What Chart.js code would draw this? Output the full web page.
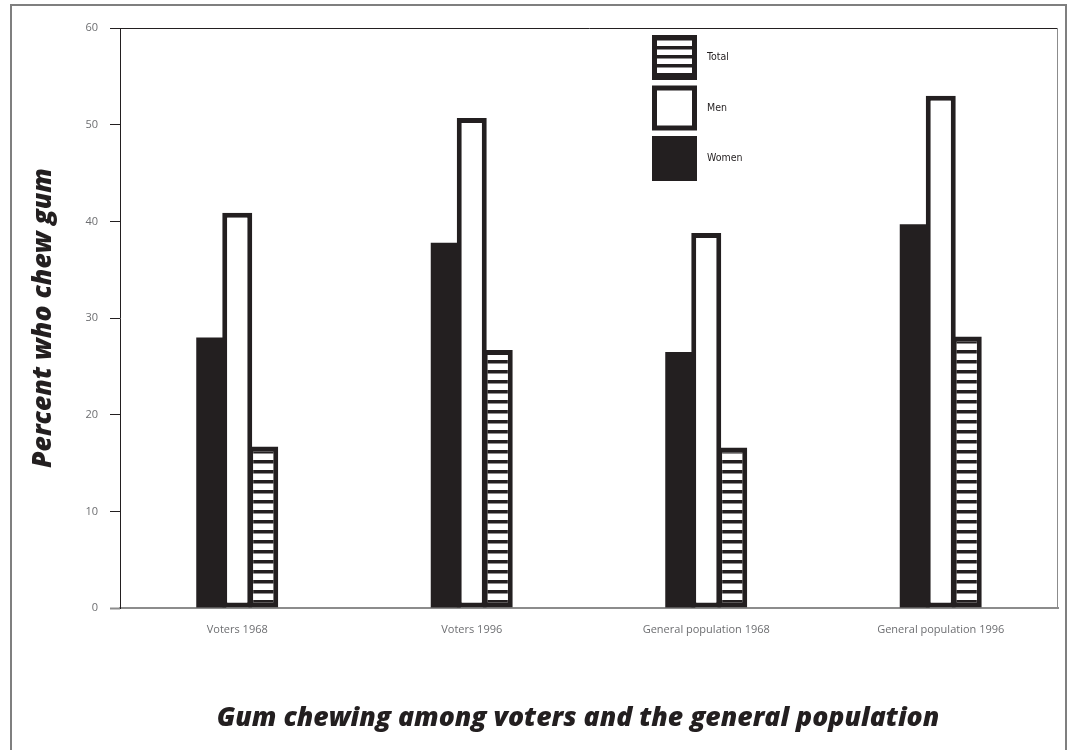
<!DOCTYPE html>
<html><head><meta charset="utf-8">
<script src="https://cdn.jsdelivr.net/npm/chart.js@4/dist/chart.umd.min.js"></script>
<style>html,body{margin:0;padding:0;background:#fff;overflow:hidden}canvas{display:block}</style>
</head><body>
<canvas id="c" width="1070" height="750"></canvas>
<script>
const categories = ['Voters 1968', 'Voters 1996', 'General population 1968', 'General population 1996'];
const womenValues = [28.0, 37.8, 26.5, 39.7];
const menValues = [40.9, 50.7, 38.8, 53.0];
const totalValues = [16.7, 26.7, 16.6, 28.1];
const yTicks = [0, 10, 20, 30, 40, 50, 60];
const seriesLabels = ['Women', 'Men', 'Total'];
const chartTitle = 'Gum chewing among voters and the general population';
const yTitle = 'Percent who chew gum';

const INK = '#231f20';
const GRAY = '#8c8c8c';
const canvas = document.getElementById('c');
const ctx0 = canvas.getContext('2d');

function stripePattern() {
  const c = document.createElement('canvas');
  c.width = 10; c.height = 10;
  const g = c.getContext('2d');
  g.fillStyle = '#ffffff'; g.fillRect(0, 0, 10, 10);
  g.fillStyle = INK; g.fillRect(0, 0, 10, 3.5);
  return ctx0.createPattern(c, 'repeat');
}

const TITLE_LEFT = 98;

const frameAndLegend = {
  id: 'frameAndLegend',
  afterLayout(chart) {
    // centre the bottom title slightly right, as in the reference
    if (chart.titleBlock) chart.titleBlock.left = TITLE_LEFT;
  },
  beforeDraw(chart) {
    const ctx = chart.ctx;
    ctx.save();
    ctx.strokeStyle = '#7f7f7f';
    ctx.lineWidth = 2;
    ctx.strokeRect(11, 5, 1055, 800);
    ctx.restore();
  },
  afterDraw(chart) {
    const ctx = chart.ctx;
    const a = chart.chartArea;
    ctx.save();
    ctx.strokeStyle = GRAY;
    ctx.lineWidth = 1;
    ctx.beginPath();
    ctx.moveTo(a.right - 0.5, a.top);
    ctx.lineTo(a.right - 0.5, a.bottom);
    ctx.stroke();
    // legend (reverse order: Total, Men, Women)
    const x = 652, size = 45, y0 = 35, step = 50.5;
    const idx = [2, 1, 0];
    idx.forEach((di, i) => {
      const ds = chart.data.datasets[di];
      const y = y0 + i * step;
      ctx.fillStyle = INK;
      ctx.fillRect(x, y, size, size);
      if (di === 1) {
        ctx.fillStyle = '#ffffff';
        ctx.fillRect(x + 5, y + 5, size - 10, size - 10);
      } else if (di === 2) {
        ctx.fillStyle = '#ffffff';
        for (let k = 0; k < 4; k++) {
          ctx.fillRect(x + 5, y + 5.5 + k * 9, size - 10, 5.5);
        }
      }
      ctx.fillStyle = INK;
      ctx.font = '10.5px "Liberation Sans Narrow", "DejaVu Sans Condensed", sans-serif';
      ctx.textBaseline = 'middle';
      ctx.textAlign = 'left';
      ctx.fillText(ds.label, x + 55, y + size / 2);
    });
    ctx.restore();
  }
};

const pattern = stripePattern();

new Chart(canvas, {
  type: 'bar',
  data: {
    labels: categories,
    datasets: [
      { label: seriesLabels[0], data: womenValues, backgroundColor: INK, borderColor: INK, borderWidth: 0 },
      { label: seriesLabels[1], data: menValues, backgroundColor: '#ffffff', borderColor: INK, borderWidth: 5, borderSkipped: false },
      { label: seriesLabels[2], data: totalValues, backgroundColor: pattern, borderColor: INK, borderWidth: 5, borderSkipped: false }
    ]
  },
  options: {
    responsive: false,
    animation: false,
    devicePixelRatio: 1,
    categoryPercentage: 0.3326,
    barPercentage: 1.154,
    layout: { padding: { left: 0, right: 12, top: 28, bottom: 16 } },
    plugins: {
      legend: { display: false },
      tooltip: { enabled: false },
      title: {
        display: true,
        position: 'bottom',
        text: chartTitle,
        color: INK,
        font: { family: '"Open Sans", sans-serif', size: 26.6, style: 'italic', weight: '800' },
        padding: { top: 0, bottom: 0 }
      }
    },
    scales: {
      x: {
        grid: { display: false, drawTicks: false },
        border: { display: true, color: GRAY, width: 2 },
        ticks: { color: '#6d6e71', padding: 15, font: { family: '"Open Sans", sans-serif', size: 11 } },
        afterFit(scale) { scale.height = 94; }
      },
      y: {
        min: 0, max: 60,
        afterBuildTicks(scale) { scale.ticks = yTicks.map(v => ({ value: v })); },
        grid: {
          drawOnChartArea: true,
          drawTicks: true,
          tickLength: 10,
          color: c => (c.tick && c.tick.value === 60) ? INK : 'rgba(0,0,0,0)',
          tickColor: c => (c.tick && c.tick.value === 0) ? GRAY : INK,
          tickWidth: c => (c.tick && c.tick.value === 0) ? 2 : 1
        },
        border: { display: true, color: INK, width: 1 },
        ticks: { color: '#6d6e71', padding: 12, font: { family: '"Open Sans", sans-serif', size: 11 } },
        title: {
          display: true,
          text: yTitle,
          color: INK,
          font: { family: '"Open Sans", sans-serif', size: 26.6, style: 'italic', weight: '800' },
          padding: { top: 27, bottom: 0 }
        },
        afterFit(scale) { scale.width = 120; }
      }
    }
  },
  plugins: [frameAndLegend]
});
</script>
</body></html>
